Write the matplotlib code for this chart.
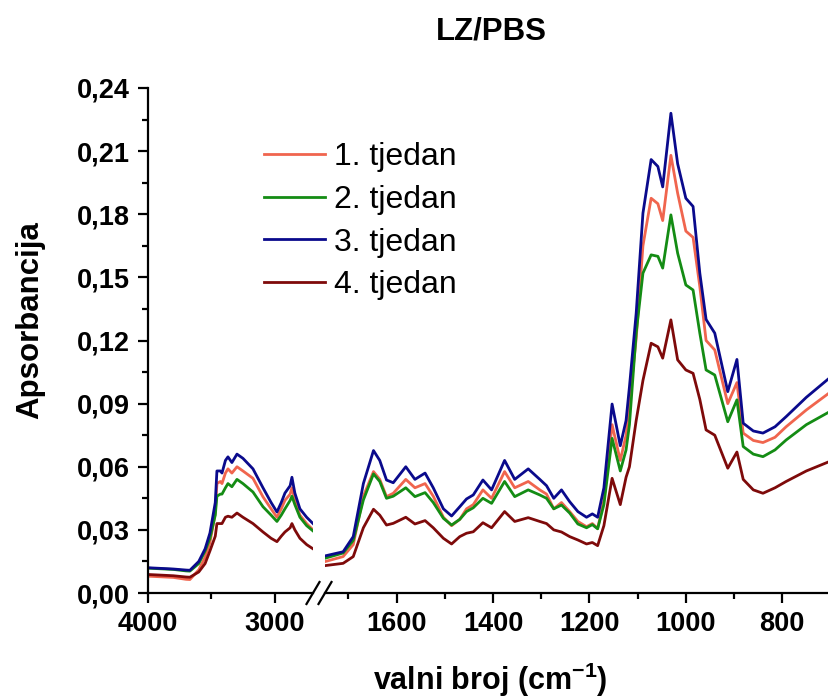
import matplotlib
matplotlib.use('Agg')
import matplotlib.pyplot as plt
from matplotlib.lines import Line2D
from matplotlib.ticker import MultipleLocator, FixedLocator, FuncFormatter

plt.rcParams['font.family'] = ['Liberation Sans', 'DejaVu Sans']
plt.rcParams['mathtext.fontset'] = 'custom'
plt.rcParams['mathtext.rm'] = 'Liberation Sans'
plt.rcParams['mathtext.bf'] = 'Liberation Sans:bold'

# ── Data ─────────────────────────────────────────────────────────

labels = ['1. tjedan', '2. tjedan', '3. tjedan', '4. tjedan']
colors = ['#F0654E', '#148C14', '#0A0A8C', '#7E0A0A']

# high wavenumber part (4000 - 2700 cm-1)
wn_hi = [4000, 3900, 3800, 3700, 3670, 3600, 3550, 3512, 3470, 3457, 3430,
         3417, 3390, 3370, 3339, 3299, 3252, 3173, 3094, 3030, 2984, 2950,
         2921, 2880, 2866, 2843, 2803, 2750, 2700]
t1_hi = [0.0080, 0.0077, 0.0074, 0.0065, 0.0064, 0.011, 0.017, 0.024, 0.038,
         0.052, 0.053, 0.052, 0.057, 0.059, 0.057, 0.060, 0.058, 0.0545, 0.0457,
         0.040, 0.036, 0.040, 0.044, 0.047, 0.050, 0.044, 0.037, 0.033, 0.030]
t2_hi = [0.0118, 0.0115, 0.0112, 0.0105, 0.0104, 0.014, 0.020, 0.026, 0.037,
         0.046, 0.047, 0.047, 0.050, 0.052, 0.0505, 0.054, 0.052, 0.048, 0.041,
         0.037, 0.034, 0.037, 0.040, 0.044, 0.046, 0.042, 0.036, 0.032, 0.0295]
t3_hi = [0.0120, 0.0117, 0.0114, 0.0109, 0.0108, 0.015, 0.021, 0.0285, 0.043,
         0.058, 0.058, 0.057, 0.063, 0.0647, 0.062, 0.066, 0.064, 0.059, 0.050,
         0.043, 0.0385, 0.043, 0.0475, 0.051, 0.055, 0.0475, 0.040, 0.036, 0.033]
t4_hi = [0.0088, 0.0085, 0.0082, 0.0076, 0.0075, 0.010, 0.014, 0.020, 0.027,
         0.033, 0.033, 0.033, 0.036, 0.0365, 0.036, 0.038, 0.036, 0.033, 0.029,
         0.026, 0.0244, 0.027, 0.029, 0.031, 0.033, 0.030, 0.026, 0.023, 0.021]

# fingerprint part (1750 - 700 cm-1)
wn_lo = [1749, 1711, 1690, 1669, 1648, 1635, 1621, 1607, 1581, 1562, 1541,
         1524, 1503, 1486, 1469, 1455, 1441, 1421, 1403, 1376, 1355, 1327,
         1303, 1289, 1274, 1258, 1241, 1224, 1206, 1194, 1183, 1170, 1153,
         1136, 1124, 1117, 1103, 1089, 1072, 1058, 1048, 1031, 1017, 1000,
         985, 971, 958, 940, 913, 894, 881, 860, 840, 815, 792, 750, 703]
t1_lo = [0.0149, 0.0173, 0.023, 0.046, 0.0577, 0.054, 0.0458, 0.0474, 0.054,
         0.050, 0.052, 0.046, 0.036, 0.032, 0.035, 0.040, 0.042, 0.049, 0.045,
         0.0577, 0.050, 0.053, 0.049, 0.047, 0.040, 0.043, 0.0387, 0.034,
         0.0315, 0.033, 0.0307, 0.044, 0.080, 0.063, 0.075, 0.090, 0.121,
         0.165, 0.1876, 0.185, 0.177, 0.208, 0.190, 0.172, 0.169, 0.1456,
         0.120, 0.1155, 0.090, 0.100, 0.076, 0.0725, 0.0715, 0.074, 0.079,
         0.087, 0.095]
t2_lo = [0.0165, 0.019, 0.025, 0.0442, 0.0566, 0.053, 0.045, 0.046, 0.050,
         0.0458, 0.0477, 0.043, 0.0355, 0.0323, 0.035, 0.0387, 0.0405, 0.045,
         0.0426, 0.053, 0.0458, 0.049, 0.0466, 0.045, 0.040, 0.0418, 0.038,
         0.0328, 0.031, 0.0325, 0.0305, 0.042, 0.0735, 0.058, 0.068, 0.080,
         0.1235, 0.152, 0.1607, 0.160, 0.1544, 0.1797, 0.1615, 0.1464, 0.144,
         0.1235, 0.106, 0.1036, 0.0814, 0.0918, 0.0696, 0.066, 0.0648, 0.068,
         0.0727, 0.080, 0.086]
t3_lo = [0.0176, 0.0196, 0.0268, 0.052, 0.0677, 0.063, 0.0537, 0.0524, 0.060,
         0.054, 0.057, 0.050, 0.040, 0.0366, 0.041, 0.0447, 0.0466, 0.0537,
         0.049, 0.063, 0.054, 0.059, 0.054, 0.051, 0.045, 0.049, 0.0434,
         0.0387, 0.036, 0.0376, 0.036, 0.050, 0.0898, 0.070, 0.082, 0.098,
         0.133, 0.1805, 0.206, 0.2027, 0.193, 0.228, 0.204, 0.1876, 0.1837,
         0.152, 0.130, 0.1235, 0.0957, 0.111, 0.0807, 0.077, 0.076, 0.079,
         0.0838, 0.093, 0.102]
t4_lo = [0.0130, 0.0141, 0.0173, 0.031, 0.0398, 0.037, 0.0323, 0.0331, 0.036,
         0.0328, 0.0344, 0.031, 0.026, 0.0233, 0.0268, 0.0284, 0.0291, 0.0334,
         0.031, 0.0387, 0.034, 0.0358, 0.034, 0.033, 0.030, 0.029, 0.0268,
         0.0252, 0.0233, 0.024, 0.0225, 0.032, 0.0545, 0.042, 0.055, 0.060,
         0.082, 0.101, 0.1187, 0.117, 0.1116, 0.1298, 0.1108, 0.106, 0.1044,
         0.092, 0.0775, 0.075, 0.0593, 0.067, 0.054, 0.049, 0.0474, 0.050,
         0.053, 0.058, 0.0624]

series_hi = [t1_hi, t2_hi, t3_hi, t4_hi]
series_lo = [t1_lo, t2_lo, t3_lo, t4_lo]

# ── Figure ───────────────────────────────────────────────────────

W, H = 829, 698
fig = plt.figure(figsize=(W / 100, H / 100), dpi=100)

y0, y1 = 593, 88
axL = fig.add_axes([148 / W, (H - y0) / H, (313 - 148) / W, (y0 - y1) / H])
axR = fig.add_axes([325 / W, (H - y0) / H, (W - 325) / W, (y0 - y1) / H])

for ys, c, lab in zip(series_hi, colors, labels):
    axL.plot(wn_hi, ys, color=c, lw=2.0, label=lab)
for ys, c in zip(series_lo, colors):
    axR.plot(wn_lo, ys, color=c, lw=2.0)

axL.set_xlim(4000, 2700)
axR.set_xlim(1748.6, 703)
for ax in (axL, axR):
    ax.set_ylim(0, 0.24)
    ax.spines['top'].set_visible(False)
    ax.spines['right'].set_visible(False)
    ax.spines['bottom'].set_linewidth(1.6)
    ax.spines['left'].set_linewidth(1.6)
    ax.tick_params(which='major', direction='out', length=7, width=1.6,
                   pad=6, labelsize=19.5)
    ax.tick_params(which='minor', direction='out', length=4, width=1.6)

axR.spines['left'].set_visible(False)
axR.tick_params(axis='y', which='both', left=False, labelleft=False)

axL.xaxis.set_major_locator(FixedLocator([4000, 3000]))
axL.xaxis.set_minor_locator(FixedLocator([3500]))
axR.xaxis.set_major_locator(MultipleLocator(200))
axR.xaxis.set_minor_locator(MultipleLocator(100))
axL.yaxis.set_major_locator(MultipleLocator(0.03))
axL.yaxis.set_minor_locator(MultipleLocator(0.015))
axL.yaxis.set_major_formatter(FuncFormatter(lambda v, p: f"{v:.2f}".replace('.', ',')))
for ax in (axL, axR):
    for t in ax.get_xticklabels() + ax.get_yticklabels():
        t.set_fontweight('bold')

# axis break marks
for cx in (313, 325):
    fig.add_artist(Line2D([(cx - 6.5) / W, (cx + 6.5) / W],
                          [(H - 604) / H, (H - 582) / H],
                          transform=fig.transFigure, color='black', lw=1.6))

fig.text(491 / W, 1 - 31 / H, 'LZ/PBS', ha='center', va='center',
         fontsize=22.5, fontweight='bold')
fig.text(30 / W, (H - 320) / H, 'Apsorbancija', rotation=90, ha='center',
         va='center', fontsize=22.5, fontweight='bold')
fig.text(490 / W, 1 - 680 / H, r'valni broj (cm$^{\mathbf{-1}}$)', ha='center',
         va='center', fontsize=22, fontweight='bold')

handles = [Line2D([], [], color=c, lw=2.0) for c in colors]
fig.legend(handles, labels, loc='upper left',
           bbox_to_anchor=(264 / W, 1 - 142 / H), frameon=False,
           fontsize=23, handlelength=1.9, handletextpad=0.3,
           labelspacing=0.4, borderpad=0, borderaxespad=0)

fig.savefig('out.png', dpi=100)
